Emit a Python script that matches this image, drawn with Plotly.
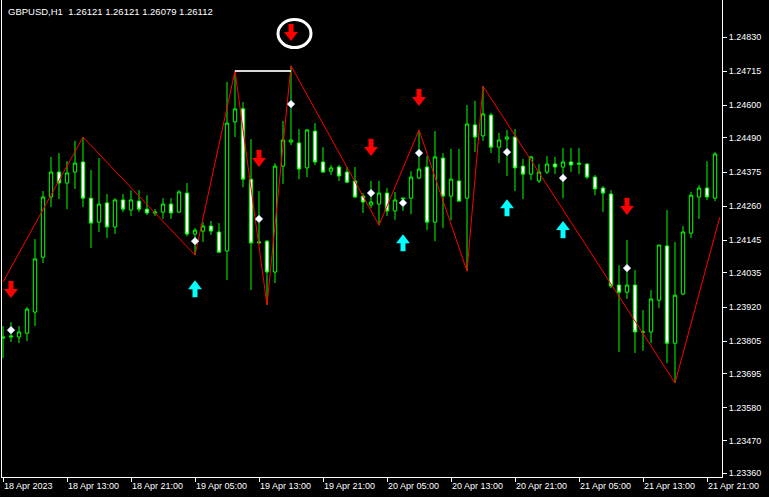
import plotly.graph_objects as go

# ---------------- data ----------------
bars = list(range(90))  # H1 bars starting 18 Apr 2023 05:00

opens = [1.23815, 1.23819, 1.23819, 1.23832, 1.23903, 1.24088, 1.24291, 1.24375, 1.24338, 1.24375,
         1.24409, 1.24287, 1.24206, 1.24271, 1.24190, 1.24281, 1.24247, 1.24277, 1.24250, 1.24237,
         1.24240, 1.24267, 1.24240, 1.24304, 1.24166, 1.24176, 1.24193, 1.24173, 1.24109, 1.24544,
         1.24588, 1.24351, 1.24136, 1.24142, 1.24038, 1.24395, 1.24476, 1.24473, 1.24389, 1.24513,
         1.24409, 1.24378, 1.24392, 1.24375, 1.24345, 1.24294, 1.24264, 1.24267, 1.24304, 1.24244,
         1.24284, 1.24287, 1.24355, 1.24392, 1.24206, 1.24422, 1.24294, 1.24345, 1.24287, 1.24534,
         1.24497, 1.24567, 1.24459, 1.24486, 1.24493, 1.24395, 1.24368, 1.24345, 1.24375, 1.24402,
         1.24392, 1.24409, 1.24405, 1.24402, 1.24358, 1.24321, 1.24301, 1.23994, 1.23970, 1.23994,
         1.23836, 1.23836, 1.23943, 1.24126, 1.23798, 1.23964, 1.24169, 1.24291, 1.24321, 1.24287]
highs = [1.23856, 1.23869, 1.23856, 1.23920, 1.24149, 1.24311, 1.24426, 1.24439, 1.24412, 1.24480,
         1.24493, 1.24382, 1.24422, 1.24301, 1.24287, 1.24301, 1.24314, 1.24314, 1.24297, 1.24250,
         1.24287, 1.24287, 1.24314, 1.24338, 1.24186, 1.24206, 1.24210, 1.24203, 1.24679, 1.24716,
         1.24611, 1.24486, 1.24311, 1.24146, 1.24405, 1.24547, 1.24733, 1.24520, 1.24520, 1.24540,
         1.24459, 1.24399, 1.24399, 1.24392, 1.24392, 1.24304, 1.24345, 1.24345, 1.24321, 1.24308,
         1.24287, 1.24378, 1.24517, 1.24429, 1.24513, 1.24439, 1.24453, 1.24453, 1.24601, 1.24615,
         1.24665, 1.24574, 1.24507, 1.24517, 1.24520, 1.24419, 1.24429, 1.24402, 1.24429, 1.24426,
         1.24456, 1.24456, 1.24456, 1.24405, 1.24365, 1.24328, 1.24314, 1.24061, 1.24146, 1.24045,
         1.23910, 1.23977, 1.24129, 1.24247, 1.24139, 1.24193, 1.24308, 1.24331, 1.24412, 1.24442]
lows = [1.23748, 1.23802, 1.23798, 1.23805, 1.23856, 1.24068, 1.24257, 1.24284, 1.24250, 1.24318,
        1.24257, 1.24119, 1.24173, 1.24153, 1.24166, 1.24240, 1.24227, 1.24240, 1.24230, 1.24227,
        1.24217, 1.24217, 1.24237, 1.24159, 1.24095, 1.24139, 1.24163, 1.24102, 1.24011, 1.24493,
        1.24324, 1.23977, 1.24132, 1.23927, 1.24001, 1.24335, 1.24466, 1.24351, 1.24358, 1.24399,
        1.24372, 1.24365, 1.24345, 1.24338, 1.24287, 1.24237, 1.24254, 1.24196, 1.24227, 1.24213,
        1.24244, 1.24233, 1.24351, 1.24179, 1.24142, 1.24186, 1.24213, 1.24274, 1.24041, 1.24442,
        1.24480, 1.24439, 1.24405, 1.24362, 1.24311, 1.24284, 1.24348, 1.24338, 1.24368, 1.24368,
        1.24287, 1.24375, 1.24368, 1.24351, 1.24297, 1.24240, 1.23984, 1.23768, 1.23947, 1.23765,
        1.23772, 1.23798, 1.23916, 1.23731, 1.23664, 1.23960, 1.24153, 1.24217, 1.24281, 1.24277]
closes = [1.23819, 1.23822, 1.23836, 1.23913, 1.24082, 1.24291, 1.24375, 1.24338, 1.24372, 1.24405,
          1.24287, 1.24203, 1.24267, 1.24190, 1.24281, 1.24250, 1.24281, 1.24250, 1.24237, 1.24240,
          1.24267, 1.24237, 1.24308, 1.24166, 1.24179, 1.24193, 1.24176, 1.24105, 1.24540, 1.24588,
          1.24351, 1.24136, 1.24139, 1.24038, 1.24395, 1.24483, 1.24483, 1.24385, 1.24517, 1.24409,
          1.24375, 1.24389, 1.24362, 1.24341, 1.24291, 1.24274, 1.24274, 1.24304, 1.24244, 1.24281,
          1.24287, 1.24358, 1.24385, 1.24206, 1.24426, 1.24294, 1.24351, 1.24277, 1.24537, 1.24493,
          1.24571, 1.24459, 1.24483, 1.24493, 1.24389, 1.24368, 1.24426, 1.24375, 1.24402, 1.24392,
          1.24409, 1.24399, 1.24402, 1.24358, 1.24318, 1.24304, 1.23991, 1.23970, 1.23994, 1.23836,
          1.23836, 1.23947, 1.24129, 1.23798, 1.23960, 1.24173, 1.24297, 1.24321, 1.24291, 1.24436]

x_tick_bars = [0, 8, 16, 24, 32, 40, 48, 56, 64, 72, 80, 88]
x_tick_labels = ["18 Apr 2023", "18 Apr 13:00", "18 Apr 21:00", "19 Apr 05:00", "19 Apr 13:00",
                 "19 Apr 21:00", "20 Apr 05:00", "20 Apr 13:00", "20 Apr 21:00", "21 Apr 05:00",
                 "21 Apr 13:00", "21 Apr 21:00"]
y_tick_values = [1.24830, 1.24715, 1.24600, 1.24490, 1.24375, 1.24260, 1.24145,
                 1.24035, 1.23920, 1.23805, 1.23695, 1.23580, 1.23470, 1.23360]

zigzag_bars = [0, 10, 24, 29, 33, 36, 47, 52, 58, 60, 84, 89.6]
zigzag_prices = [1.24004, 1.24493, 1.24095, 1.24716, 1.23927, 1.24733,
                 1.24196, 1.24517, 1.24041, 1.24665, 1.23664, 1.24223]

level_bars = [29, 36]
level_prices = [1.24716, 1.24716]

sell_bars = [1, 32, 36, 46, 52, 78]
sell_prices = [1.23974, 1.24416, 1.24840, 1.24453, 1.24621, 1.24254]
buy_bars = [24, 50, 63, 70]
buy_prices = [1.23987, 1.24142, 1.24260, 1.24186]
dot_bars = [1, 24, 32, 36, 46, 50, 52, 63, 70, 78]
dot_prices = [1.23842, 1.24142, 1.24217, 1.24604, 1.24304, 1.24271, 1.24439, 1.24442, 1.24355, 1.24051]
circled_sell = 2  # index of the sell arrow that is circled

title_text = "GBPUSD,H1\u00a0 1.26121 1.26121 1.26079 1.26112"

# ---------------- layout geometry ----------------
W, H = 769, 497
ML, MR, MT, MB = 2, 47, 0, 20
x_range = [-0.125, 89.875]
y_range = [1.23347, 1.24955]
plot_h = H - MT - MB
plot_w = W - ML - MR
ppx = (y_range[1] - y_range[0]) / plot_h   # price per pixel
bpx = (x_range[1] - x_range[0]) / plot_w   # bars per pixel

FONT = "Liberation Sans, Arial, sans-serif"
RED = "#ff0000"
CYAN = "#00ffff"

fig = go.Figure()

fig.add_trace(go.Candlestick(
    x=bars, open=opens, high=highs, low=lows, close=closes,
    increasing=dict(line=dict(color="#00ff00", width=1), fillcolor="#000000"),
    decreasing=dict(line=dict(color="#00ff00", width=1), fillcolor="#ffffff"),
    whiskerwidth=0, hoverinfo="skip", showlegend=False,
))

# zigzag
fig.add_trace(go.Scatter(x=zigzag_bars, y=zigzag_prices, mode="lines",
                         line=dict(color=RED, width=1), hoverinfo="skip", showlegend=False))
# level line between highs
fig.add_trace(go.Scatter(x=level_bars, y=level_prices, mode="lines",
                         line=dict(color="#d8d8d8", width=2), hoverinfo="skip", showlegend=False))

# sell arrows (down): stem above, head below
fig.add_trace(go.Scatter(x=sell_bars, y=[p + 4.5 * ppx for p in sell_prices], mode="markers",
                         marker=dict(symbol="line-ns", size=8, line=dict(color=RED, width=5)),
                         hoverinfo="skip", showlegend=False))
fig.add_trace(go.Scatter(x=sell_bars, y=[p - 1 * ppx for p in sell_prices], mode="markers",
                         marker=dict(symbol="triangle-down", size=12, color=RED, line=dict(width=0)),
                         hoverinfo="skip", showlegend=False))
# buy arrows (up): head above, stem below
fig.add_trace(go.Scatter(x=buy_bars, y=[p - 4.5 * ppx for p in buy_prices], mode="markers",
                         marker=dict(symbol="line-ns", size=8, line=dict(color=CYAN, width=5)),
                         hoverinfo="skip", showlegend=False))
fig.add_trace(go.Scatter(x=buy_bars, y=[p + 1 * ppx for p in buy_prices], mode="markers",
                         marker=dict(symbol="triangle-up", size=12, color=CYAN, line=dict(width=0)),
                         hoverinfo="skip", showlegend=False))
# diamonds
fig.add_trace(go.Scatter(x=dot_bars, y=dot_prices, mode="markers",
                         marker=dict(symbol="diamond", size=6, color="#ffffff",
                                     line=dict(color="#9fbfff", width=0.6)),
                         hoverinfo="skip", showlegend=False))

# circle around one sell arrow
cb = sell_bars[circled_sell] + 3.5 * bpx
cp = sell_prices[circled_sell] + 0.5 * ppx
rx, ry = 16.5 * bpx, 14 * ppx
fig.add_shape(type="circle", xref="x", yref="y", x0=cb - rx, x1=cb + rx, y0=cp - ry, y1=cp + ry,
              line=dict(color="#ffffff", width=3))

fig.add_annotation(text=title_text, xref="paper", yref="paper", x=0, y=1,
                   xanchor="left", yanchor="top", xshift=4, yshift=-4, showarrow=False,
                   font=dict(family=FONT, size=9.5, color="#ffffff"))

fig.update_layout(
    width=W, height=H, margin=dict(l=ML, r=MR, t=MT, b=MB),
    paper_bgcolor="#000000", plot_bgcolor="#000000",
    boxgap=0.4, showlegend=False,
    xaxis=dict(range=x_range, tickmode="array", tickvals=x_tick_bars, ticktext=x_tick_labels,
               ticks="outside", ticklen=4, tickcolor="#ffffff", tickwidth=1,
               ticklabelposition="outside right",
               showline=True, mirror=True, linecolor="#ffffff", linewidth=1,
               showgrid=False, zeroline=False, rangeslider=dict(visible=False),
               automargin=False, tickfont=dict(family=FONT, size=9, color="#ffffff")),
    yaxis=dict(range=y_range, side="right", tickmode="array", tickvals=y_tick_values,
               ticktext=[f"{v:.5f}" for v in y_tick_values],
               ticks="outside", ticklen=4, tickcolor="#ffffff", tickwidth=1,
               showline=True, mirror=True, linecolor="#ffffff", linewidth=1,
               showgrid=False, zeroline=False, automargin=False,
               tickfont=dict(family=FONT, size=9, color="#ffffff")),
)

fig.write_html("out.html", config={"displayModeBar": False},
               post_script="document.body.style.margin='0px';document.body.style.background='#000000';")
